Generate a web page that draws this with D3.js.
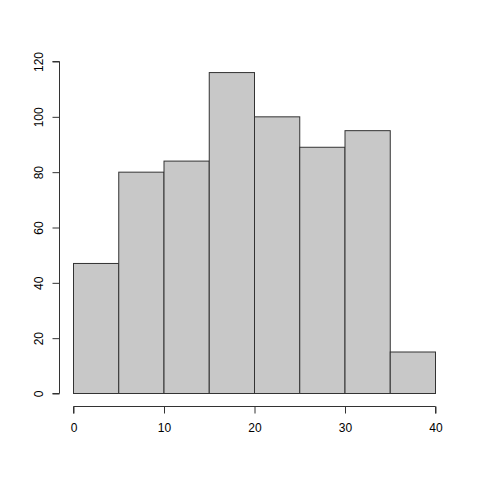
<!DOCTYPE html>
<html>
<head>
<meta charset="utf-8">
<script src="https://cdn.jsdelivr.net/npm/d3@7"></script>
<style>
  body { margin: 0; background: #fff; }
  svg text { font-family: "Liberation Sans", Arial, sans-serif; font-size: 12px; fill: #000; }
</style>
</head>
<body>
<div id="chart"></div>
<script>
// histogram bins (left edges, width 5) and counts
const binStarts = [0, 5, 10, 15, 20, 25, 30, 35];
const binWidth = 5;
const counts = [47, 80, 84, 116, 100, 89, 95, 15];
const xTicks = [0, 10, 20, 30, 40];
const yTicks = [0, 20, 40, 60, 80, 100, 120];

const width = 480, height = 480;
const svg = d3.select("#chart").append("svg")
    .attr("width", width)
    .attr("height", height);

let x = d3.scaleLinear().domain([0, 40]).range([73, 435]);
let y = d3.scaleLinear().domain([0, 120]).range([393, 61]);

// bars
svg.selectAll("rect.bar")
    .data(counts)
    .enter()
    .append("rect")
    .attr("class", "bar")
    .attr("x", (d, i) => x(binStarts[i]) + 0.5)
    .attr("y", d => y(d) + 0.5)
    .attr("width", (d, i) => x(binStarts[i] + binWidth) - x(binStarts[i]))
    .attr("height", d => y(0) - y(d))
    .attr("fill", "#c8c8c8")
    .attr("stroke", "#333")
    .attr("stroke-width", 1);

// x axis (R style, detached below the plot)
let xAxis = svg.append("g")
    .attr("transform", "translate(0.5,406.5)")
    .call(d3.axisBottom(x).tickValues(xTicks).tickSize(7).tickPadding(10).tickFormat(d3.format("d")));
xAxis.select(".domain").attr("d", "M" + x(0) + ",7V0H" + x(40) + "V7").attr("stroke", "#333");
xAxis.selectAll(".tick line").attr("stroke", "#333");
xAxis.selectAll("text").style("font-size", "12px").attr("font-family", null);

// y axis with rotated labels
let yAxis = svg.append("g")
    .attr("transform", "translate(59.5,0.5)")
    .call(d3.axisLeft(y).tickValues(yTicks).tickSize(7).tickFormat(d3.format("d")));
yAxis.select(".domain").attr("d", "M-7," + y(0) + "H0V" + y(120) + "H-7").attr("stroke", "#333");
yAxis.selectAll(".tick line").attr("stroke", "#333");
yAxis.selectAll("text")
    .attr("x", null)
    .attr("dy", null)
    .attr("text-anchor", "middle")
    .attr("transform", "translate(-17,0) rotate(-90)")
    .style("font-size", "12px");
</script>
</body>
</html>
